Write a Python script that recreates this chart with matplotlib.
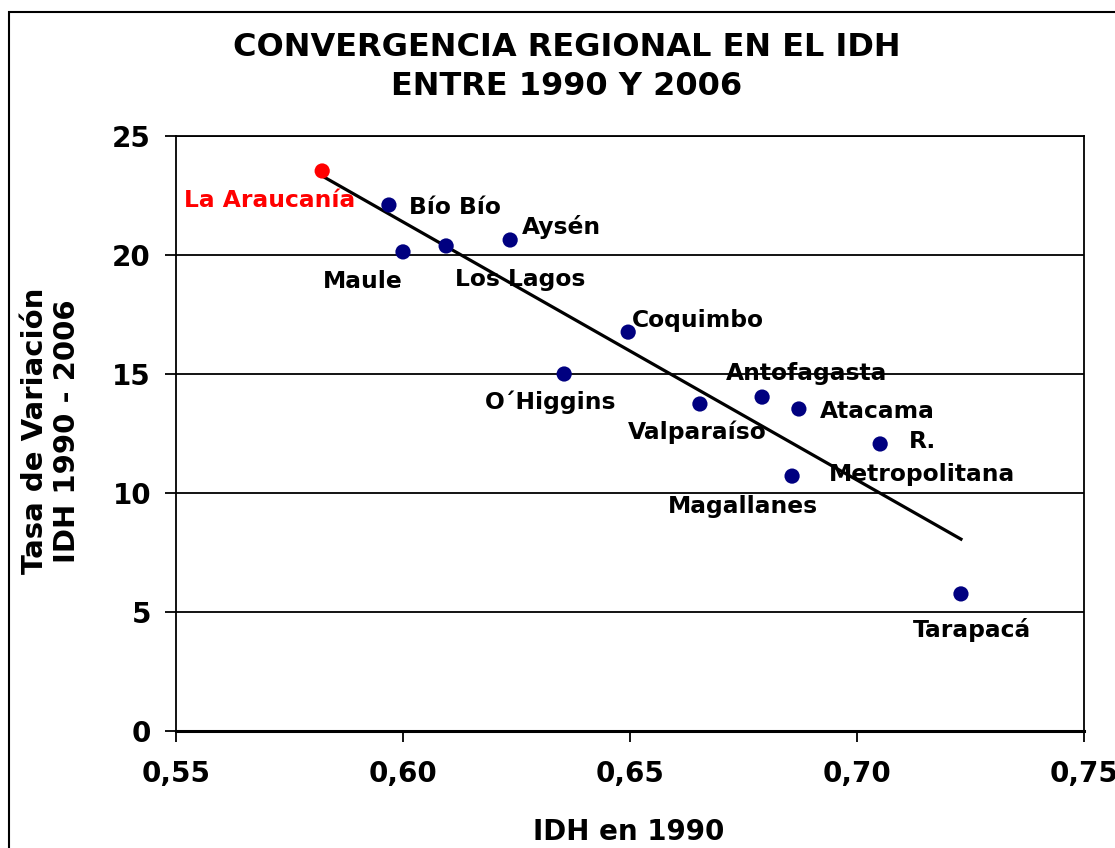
import numpy as np
import matplotlib.pyplot as plt
from matplotlib.patches import Rectangle

# datos
regiones = ["La Araucanía", "Bío Bío", "Maule", "Los Lagos", "Aysén", "Coquimbo",
            "O´Higgins", "Valparaíso", "Antofagasta", "Atacama", "R.\nMetropolitana",
            "Magallanes", "Tarapacá"]
idh_1990 = [0.5822, 0.5969, 0.6000, 0.6095, 0.6236, 0.6496,
            0.6355, 0.6654, 0.6791, 0.6872, 0.7051, 0.6857, 0.7229]
tasa_var = [23.53, 22.10, 20.13, 20.38, 20.63, 16.76,
            15.00, 13.74, 14.03, 13.53, 12.06, 10.71, 5.76]

# decalage des etiquettes (pixels) et alignement
offsets = [(33, -30, "right"), (20, -2, "left"), (0, -30, "right"), (9, -34, "left"),
           (12, 13, "left"), (4, 12, "left"), (-14, -28, "center"), (-3, -28, "center"),
           (44, 24, "center"), (21, -3, "left"), (42, -14, "center"),
           (-49, -30, "center"), (11, -36, "center")]

plt.rcParams['font.family'] = 'DejaVu Sans'
plt.rcParams['font.weight'] = 'bold'

fig = plt.figure(figsize=(11.15, 8.48), dpi=100)
ax = fig.add_axes([176/1115, 1-731/848, 908/1115, 595/848])

x = np.array(idh_1990)
y = np.array(tasa_var)

# droite de tendance
a, b = np.polyfit(x, y, 1)
xt = np.array([x.min(), x.max()])
ax.plot(xt, a*xt + b, color="black", lw=2.3, zorder=3)

couleurs = ["red"] + ["#000080"]*(len(x)-1)
ax.scatter(x, y, s=120, c=couleurs, zorder=4, edgecolors="none")

for i in range(len(x)):
    dx, dy, ha = offsets[i]
    col = "red" if i == 0 else "black"
    ax.annotate(regiones[i], (x[i], y[i]), xytext=(dx, dy), textcoords="offset pixels",
                ha=ha, va="center", fontsize=16.8, fontweight="bold", color=col,
                linespacing=1.55, zorder=5)

ax.set_xlim(0.55, 0.75)
ax.set_ylim(0, 25)
ax.set_xticks([0.55, 0.60, 0.65, 0.70, 0.75])
ax.set_xticklabels(["0,55", "0,60", "0,65", "0,70", "0,75"])
ax.set_yticks([0, 5, 10, 15, 20, 25])
ax.tick_params(axis="both", labelsize=20, length=8, width=1.3, color="black")
ax.tick_params(axis="y", pad=10)
ax.tick_params(axis="x", pad=13)
for lab in ax.get_xticklabels() + ax.get_yticklabels():
    lab.set_fontweight("bold")

ax.yaxis.grid(True, color="black", lw=1.3)
ax.set_axisbelow(True)
for s in ["left", "right", "top"]:
    ax.spines[s].set_linewidth(1.3)
ax.spines["bottom"].set_linewidth(2.2)

fig.text(567/1115, 1-67/848, "CONVERGENCIA REGIONAL EN EL IDH\nENTRE 1990 Y 2006",
         ha="center", va="center", fontsize=23, fontweight="bold", linespacing=1.35)
fig.text(629/1115, 1-832/848, "IDH en 1990", ha="center", va="center",
         fontsize=20, fontweight="bold")
fig.text(51/1115, 1-431/848, "Tasa de Variación\nIDH 1990 - 2006", ha="center", va="center",
         rotation=90, fontsize=21, fontweight="bold", linespacing=1.15)

# cadre exterieur
fig.add_artist(Rectangle((9/1115, -0.1), 1.2, 1.1-12/848, transform=fig.transFigure,
                         fill=False, edgecolor="black", lw=1.5))

fig.savefig("out.png", dpi=100)
